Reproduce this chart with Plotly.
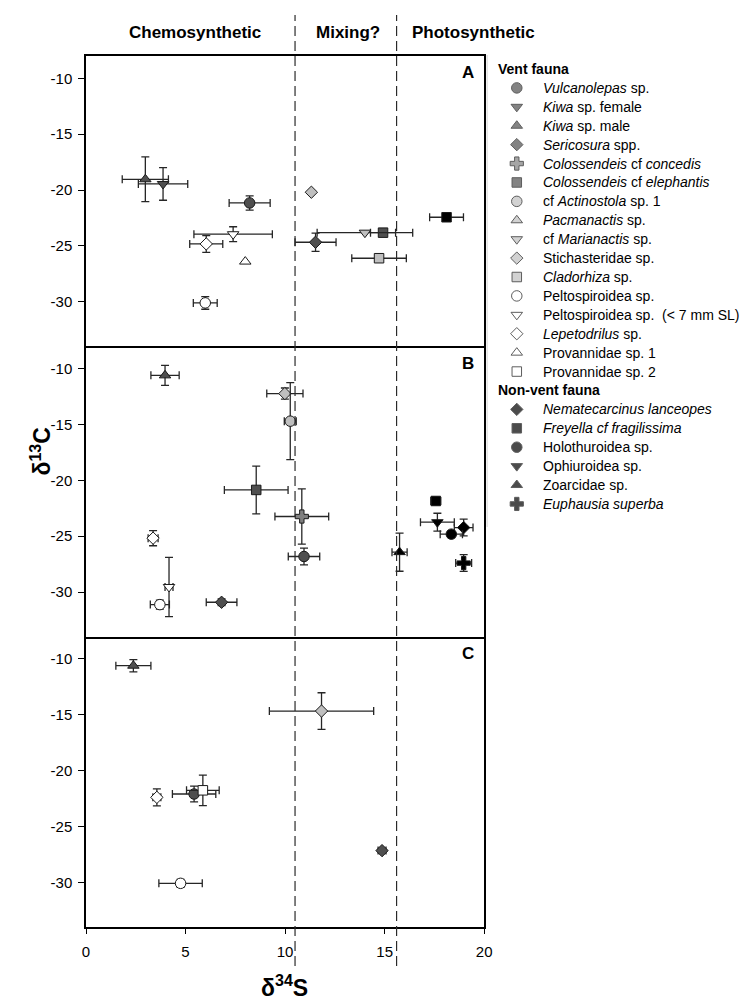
import plotly.graph_objects as go

# ---------------- data ----------------
x_ticks = [0, 5, 10, 15, 20]
y_ticks = [-30, -25, -20, -15, -10]
zone_labels = ["Chemosynthetic", "Mixing?", "Photosynthetic"]
zone_bounds = [10.5, 15.6]
panel_labels = ["A", "B", "C"]

# Panel A
A_species = ["Vulcanolepas", "KiwaF", "KiwaM", "Sericosura", "ColElephantis", "Marianactis",
             "Stichasteridae", "Cladorhiza", "Peltospiroidea", "PeltoSmall", "Lepetodrilus",
             "Provannidae1", "Freyella"]
A_x = [8.22, 3.87, 2.98, 11.53, 14.92, 14.01, 11.32, 14.72, 5.99, 7.39, 6.04, 8.0, 18.11]
A_y = [-21.16, -19.46, -19.04, -24.68, -23.82, -23.82, -20.2, -26.11, -30.11, -23.96, -24.83, -26.41, -22.44]
A_xerr = [1.03, 1.24, 1.16, 1.03, 0.63, 2.4, 0, 1.37, 0.6, 1.97, 0.83, 0, 0.85]
A_yerr = [0.64, 1.46, 2.0, 0.82, 0.3, 0, 0, 0, 0.57, 0.67, 0.75, 0, 0.3]

# Panel B
B_species = ["KiwaM", "Stichasteridae", "Actinostola", "ColElephantis", "ColConcedis", "Vulcanolepas",
             "Lepetodrilus", "PeltoSmall", "Peltospiroidea", "Sericosura", "Zoarcidae", "Freyella",
             "Ophiuroidea", "Nematocarcinus", "Holothuroidea", "Euphausia"]
B_x = [3.97, 9.99, 10.26, 8.55, 10.84, 10.95, 3.37, 4.17, 3.71, 6.81, 15.75, 17.57, 17.65, 18.97, 18.35, 18.97]
B_y = [-10.6, -12.23, -14.7, -20.86, -23.24, -26.82, -25.18, -29.55, -31.13, -30.92, -26.43, -21.85,
       -23.75, -24.23, -24.82, -27.41]
B_xerr = [0.71, 0.91, 0.3, 1.6, 1.35, 0.79, 0.25, 0.2, 0.48, 0.77, 0.38, 0.25, 0.85, 0.47, 0.56, 0.4]
B_yerr = [0.9, 0.5, 3.45, 2.14, 2.48, 0.75, 0.68, 2.65, 0.4, 0.3, 1.71, 0.35, 0.8, 0.75, 0.3, 0.75]

# Panel C
C_species = ["KiwaM", "Lepetodrilus", "Vulcanolepas", "Provannidae2", "Peltospiroidea", "Stichasteridae",
             "Sericosura"]
C_x = [2.38, 3.56, 5.43, 5.87, 4.75, 11.83, 14.87]
C_y = [-10.6, -22.39, -22.09, -21.76, -30.09, -14.66, -27.16]
C_xerr = [0.88, 0.2, 1.09, 0.82, 1.09, 2.62, 0.2]
C_yerr = [0.55, 0.76, 0.7, 1.37, 0.35, 1.64, 0.2]

# Legend entries
vent_keys = ["Vulcanolepas", "KiwaF", "KiwaM", "Sericosura", "ColConcedis", "ColElephantis", "Actinostola",
             "Pacmanactis", "Marianactis", "Stichasteridae", "Cladorhiza", "Peltospiroidea", "PeltoSmall",
             "Lepetodrilus", "Provannidae1", "Provannidae2"]
vent_names = ["<i>Vulcanolepas</i> sp.", "<i>Kiwa</i> sp. female", "<i>Kiwa</i> sp. male",
              "<i>Sericosura</i> spp.", "<i>Colossendeis</i> cf <i>concedis</i>",
              "<i>Colossendeis</i> cf <i>elephantis</i>", "cf <i>Actinostola</i> sp. 1",
              "<i>Pacmanactis</i> sp.", "cf <i>Marianactis</i> sp.", "Stichasteridae sp.",
              "<i>Cladorhiza</i> sp.", "Peltospiroidea sp.", "Peltospiroidea sp.  (< 7 mm SL)",
              "<i>Lepetodrilus</i> sp.", "Provannidae sp. 1", "Provannidae sp. 2"]
nonvent_keys = ["Nematocarcinus", "Freyella", "Holothuroidea", "Ophiuroidea", "Zoarcidae", "Euphausia"]
nonvent_names = ["<i>Nematecarcinus lanceopes</i>", "<i>Freyella cf fragilissima</i>", "Holothuroidea sp.",
                 "Ophiuroidea sp.", "Zoarcidae sp.", "<i>Euphausia superba</i>"]

# ---------------- styles ----------------
DARK, MID, LIGHT, WHITE, BLACK = "#4f4f4f", "#808080", "#bfbfbf", "#ffffff", "#000000"
STYLE = {
    "Vulcanolepas": ("circle", DARK), "KiwaF": ("triangle-down", DARK), "KiwaM": ("triangle-up", DARK),
    "Sericosura": ("diamond", DARK), "ColConcedis": ("cross", MID), "ColElephantis": ("square", DARK),
    "Actinostola": ("circle", LIGHT), "Pacmanactis": ("triangle-up", LIGHT),
    "Marianactis": ("triangle-down", LIGHT), "Stichasteridae": ("diamond", LIGHT),
    "Cladorhiza": ("square", LIGHT), "Peltospiroidea": ("circle", WHITE),
    "PeltoSmall": ("triangle-down", WHITE), "Lepetodrilus": ("diamond", WHITE),
    "Provannidae1": ("triangle-up", WHITE), "Provannidae2": ("square", WHITE),
    "Nematocarcinus": ("diamond", BLACK), "Freyella": ("square", BLACK), "Holothuroidea": ("circle", BLACK),
    "Ophiuroidea": ("triangle-down", BLACK), "Zoarcidae": ("triangle-up", BLACK), "Euphausia": ("cross", BLACK),
}
SIZE = {"circle": 10.5, "triangle-down": 10, "triangle-up": 10, "diamond": 9.5, "square": 9.5, "cross": 11}

FONT = "Arial, 'Liberation Sans', sans-serif"
W, H = 754, 1007
ML, MR, MT, MB = 86, 0, 56, 80
PW = W - ML - MR
PH = H - MT - MB
X_RIGHT = 489  # px of plot right edge
xdom_end = (X_RIGHT - ML) / PW


def px_to_paper_x(px):
    return (px - ML) / PW


def py_to_paper_y(py):
    return (H - MB - py) / PH


fig = go.Figure()

panels = [
    (A_species, A_x, A_y, A_xerr, A_yerr, "x", "y"),
    (B_species, B_x, B_y, B_xerr, B_yerr, "x2", "y2"),
    (C_species, C_x, C_y, C_xerr, C_yerr, "x3", "y3"),
]
ERRC = "#262626"
for sp_list, xs, ys, xe, ye, xa, ya in panels:
    for sp, xv, yv, ex, ey in zip(sp_list, xs, ys, xe, ye):
        sym, col = STYLE[sp]
        fig.add_trace(go.Scatter(
            x=[xv], y=[yv], mode="markers", xaxis=xa, yaxis=ya, showlegend=False,
            marker=dict(symbol=sym, size=SIZE[sym], color=col, line=dict(color="#1a1a1a", width=1)),
            error_x=dict(type="data", array=[ex], visible=ex > 0, color=ERRC, thickness=1.3, width=4),
            error_y=dict(type="data", array=[ey], visible=ey > 0, color=ERRC, thickness=1.3, width=4),
            cliponaxis=False,
        ))

# ---------- manual legend on its own axis ----------
ROW0_PY, ROW_STEP = 69, 18.91
rows_keys = [None] + vent_keys + [None] + nonvent_keys
rows_names = ["<b>Vent fauna</b>"] + vent_names + ["<b>Non-vent fauna</b>"] + nonvent_names
leg_x, leg_y, leg_sym, leg_col, leg_size = [], [], [], [], []
for r, k in enumerate(rows_keys):
    if k is None:
        continue
    sym, col = STYLE[k]
    leg_x.append(522)
    leg_y.append(r)
    leg_sym.append(sym)
    leg_col.append(col)
    leg_size.append(SIZE[sym])
fig.add_trace(go.Scatter(
    x=leg_x, y=leg_y, mode="markers", xaxis="x4", yaxis="y4", showlegend=False, hoverinfo="skip",
    marker=dict(symbol=leg_sym, color=leg_col, size=leg_size, line=dict(color="#1a1a1a", width=1)),
))
annotations = []
for r, (k, name) in enumerate(zip(rows_keys, rows_names)):
    annotations.append(dict(
        x=501 if k is None else 547, y=r, xref="x4", yref="y4", text=name, showarrow=False,
        xanchor="left", yanchor="middle", font=dict(family=FONT, size=14, color="#000"),
    ))

r_top = (MT - ROW0_PY) / ROW_STEP
r_bot = (H - MB - ROW0_PY) / ROW_STEP

# zone labels on top
for lab, cx in zip(zone_labels, [196, 351, 478]):
    annotations.append(dict(x=px_to_paper_x(cx), y=py_to_paper_y(32), xref="paper", yref="paper",
                            text=f"<b>{lab}</b>", showarrow=False, xanchor="center", yanchor="middle",
                            font=dict(family=FONT, size=17, color="#000")))
# panel letters
for lab, xa, ya in zip(panel_labels, ["x", "x2", "x3"], ["y", "y2", "y3"]):
    annotations.append(dict(x=19.2, y=-9.5, xref=xa, yref=ya, text=f"<b>{lab}</b>", showarrow=False,
                            xanchor="center", yanchor="middle", font=dict(family=FONT, size=17, color="#000")))
# axis titles
annotations.append(dict(x=px_to_paper_x(287), y=py_to_paper_y(986), xref="paper", yref="paper",
                        text="<b>δ<sup>34</sup>S</b>", showarrow=False, xanchor="center", yanchor="middle",
                        font=dict(family=FONT, size=23, color="#000")))
annotations.append(dict(x=px_to_paper_x(40), y=py_to_paper_y(452), xref="paper", yref="paper",
                        text="<b>δ<sup>13</sup>C</b>", showarrow=False, xanchor="center", yanchor="middle",
                        textangle=-90, font=dict(family=FONT, size=23, color="#000")))

shapes = []
for xb in zone_bounds:
    shapes.append(dict(type="line", xref="x", yref="paper", x0=xb, x1=xb,
                       y0=py_to_paper_y(966), y1=py_to_paper_y(15),
                       line=dict(color="#2a2a2a", width=1.2, dash="10px,5px"), layer="above"))
# faint legend border line
shapes.append(dict(type="line", xref="paper", yref="paper", x0=px_to_paper_x(492), x1=px_to_paper_x(492),
                   y0=py_to_paper_y(527), y1=py_to_paper_y(55), line=dict(color="#d6d6d6", width=1)))

LW = 1.5
axis_common = dict(range=[0, 20], domain=[0, xdom_end], showgrid=False, zeroline=False, showline=True,
                   linecolor="#000", linewidth=LW)
yaxis_common = dict(range=[-34, -8], showgrid=False, zeroline=False, showline=True, mirror=True,
                    linecolor="#000", linewidth=LW, ticks="outside", ticklen=6, tickwidth=1.2,
                    tickcolor="#000", tickvals=y_ticks, ticktext=[str(v) for v in y_ticks],
                    tickfont=dict(family=FONT, size=15, color="#000"), ticklabelstandoff=3)

fig.update_layout(
    width=W, height=H, margin=dict(l=ML, r=MR, t=MT, b=MB),
    paper_bgcolor="#ffffff", plot_bgcolor="rgba(0,0,0,0)", showlegend=False,
    font=dict(family=FONT, size=13, color="#000"),
    xaxis=dict(**axis_common, anchor="y", mirror=True, showticklabels=False, ticks=""),
    xaxis2=dict(**axis_common, anchor="y2", mirror=False, showticklabels=False, ticks="", matches="x"),
    xaxis3=dict(**axis_common, anchor="y3", mirror=False, matches="x", ticks="outside", ticklen=5,
                tickwidth=1.2, tickcolor="#000", tickvals=x_ticks, ticktext=[str(v) for v in x_ticks],
                tickfont=dict(family=FONT, size=15, color="#000"), ticklabelstandoff=5),
    yaxis=dict(**yaxis_common, domain=[2 / 3, 1], anchor="x"),
    yaxis2=dict(**yaxis_common, domain=[1 / 3, 2 / 3], anchor="x2"),
    yaxis3=dict(**yaxis_common, domain=[0, 1 / 3], anchor="x3"),
    xaxis4=dict(domain=[px_to_paper_x(495), 1], range=[495, 754], visible=False, anchor="y4"),
    yaxis4=dict(domain=[0, 1], range=[r_bot, r_top], visible=False, anchor="x4"),
    annotations=annotations, shapes=shapes,
)

fig.write_html(
    "out.html",
    config={"displayModeBar": False},
    post_script=("document.body.style.margin='0px';"
                 "document.body.style.overflow='hidden';"
                 "document.documentElement.style.overflow='hidden';"),
)
